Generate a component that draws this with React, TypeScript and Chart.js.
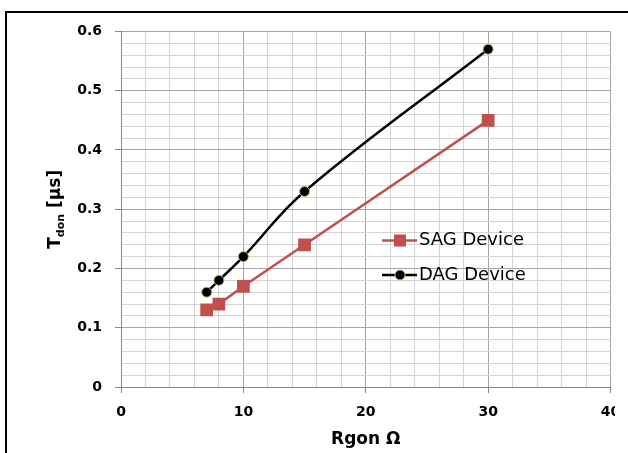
import React, { useEffect, useRef } from "react";
import { Chart, registerables } from "chart.js";

Chart.register(...registerables);

// Gate resistance (Ω) and turn-on delay (µs)
const rgonValues = [7, 8, 10, 15, 30];
const sagDelay = [0.13, 0.14, 0.17, 0.24, 0.45];
const dagDelay = [0.16, 0.18, 0.22, 0.33, 0.57];
const seriesLabels = ["SAG Device", "DAG Device"];

const X_MIN = 0;
const X_MAX = 40;
const X_STEP = 2;
const X_MAJOR = 10;
const Y_MIN = 0;
const Y_MAX = 0.6;
const Y_STEP = 0.02;
const Y_MAJOR = 0.1;

const FONT = "'DejaVu Sans', 'Liberation Sans', sans-serif";
const MAJOR_GRID = "#a6a6a6";
const MINOR_GRID = "#d4d4d4";
const SAG_COLOR = "#c0504d";
const DAG_COLOR = "#000000";
const DAG_EDGE = "#a9c46b";

const isMultiple = (v: number, step: number) =>
  Math.abs(v / step - Math.round(v / step)) < 1e-6;

const titlesAndLegend = {
  id: "titlesAndLegend",
  afterDraw(chart: any) {
    const { ctx, chartArea } = chart;
    ctx.save();
    ctx.fillStyle = "#000";

    // x axis title
    ctx.font = `bold 17px ${FONT}`;
    ctx.textAlign = "center";
    ctx.textBaseline = "middle";
    ctx.fillText("Rgon Ω", (chartArea.left + chartArea.right) / 2, 440);

    // y axis title with subscript, rotated
    ctx.save();
    ctx.translate(54, (chartArea.top + chartArea.bottom) / 2);
    ctx.rotate(-Math.PI / 2);
    ctx.textBaseline = "alphabetic";
    ctx.textAlign = "left";
    const big = `bold 17px ${FONT}`;
    const small = `bold 11px ${FONT}`;
    ctx.font = big;
    const wT = ctx.measureText("T").width;
    const wRest = ctx.measureText(" [µs]").width;
    ctx.font = small;
    const wSub = ctx.measureText("don").width;
    let x = -(wT + wSub + wRest) / 2;
    const base = 6;
    ctx.font = big;
    ctx.fillText("T", x, base);
    x += wT;
    ctx.font = small;
    ctx.fillText("don", x, base + 4);
    x += wSub;
    ctx.font = big;
    ctx.fillText(" [µs]", x, base);
    ctx.restore();

    // legend inside the plot area
    const rows = [240.5, 275];
    chart.data.datasets.forEach((ds: any, i: number) => {
      const y = rows[i];
      ctx.strokeStyle = ds.borderColor;
      ctx.lineWidth = 2.5;
      ctx.beginPath();
      ctx.moveTo(382, y);
      ctx.lineTo(417, y);
      ctx.stroke();
      ctx.fillStyle = ds.pointBackgroundColor;
      ctx.strokeStyle = ds.pointBorderColor;
      ctx.lineWidth = 1;
      if (ds.pointStyle === "rect") {
        ctx.fillRect(400 - 6, y - 6, 12, 12);
      } else {
        ctx.beginPath();
        ctx.arc(400, y, 5, 0, Math.PI * 2);
        ctx.fill();
        ctx.stroke();
      }
      ctx.fillStyle = "#000";
      ctx.font = `18px ${FONT}`;
      ctx.textAlign = "left";
      ctx.textBaseline = "middle";
      ctx.fillText(ds.label, 419, y);
    });
    ctx.restore();
  },
};

export default function App() {
  const canvasRef = useRef<HTMLCanvasElement | null>(null);

  useEffect(() => {
    const canvas = canvasRef.current;
    if (!canvas) return;
    const chart = new Chart(canvas, {
      type: "line",
      data: {
        datasets: [
          {
            label: seriesLabels[0],
            data: rgonValues.map((x, i) => ({ x, y: sagDelay[i] })),
            borderColor: SAG_COLOR,
            backgroundColor: SAG_COLOR,
            borderWidth: 2.5,
            pointStyle: "rect",
            pointRadius: 9,
            pointBackgroundColor: SAG_COLOR,
            pointBorderColor: SAG_COLOR,
            pointBorderWidth: 0,
            tension: 0,
          },
          {
            label: seriesLabels[1],
            data: rgonValues.map((x, i) => ({ x, y: dagDelay[i] })),
            borderColor: DAG_COLOR,
            backgroundColor: DAG_COLOR,
            borderWidth: 2.5,
            pointStyle: "circle",
            pointRadius: 5,
            pointBackgroundColor: DAG_COLOR,
            pointBorderColor: DAG_EDGE,
            pointBorderWidth: 1,
            tension: 0.4,
          },
        ],
      },
      options: {
        responsive: false,
        animation: false,
        devicePixelRatio: 1,
        layout: { autoPadding: false, padding: { left: 0, top: 31.5, right: 4.5, bottom: 0 } },
        plugins: {
          legend: { display: false },
          tooltip: { enabled: false },
        },
        scales: {
          x: {
            type: "linear",
            min: X_MIN,
            max: X_MAX,
            ticks: {
              stepSize: X_STEP,
              maxRotation: 0,
              autoSkip: false,
              padding: 11,
              color: "#000",
              font: { family: FONT, size: 14, weight: "bold" },
              callback: (v: any) => (isMultiple(Number(v), X_MAJOR) ? String(v) : ""),
            },
            grid: {
              color: (c: any) =>
                c.tick && isMultiple(c.tick.value, X_MAJOR) ? MAJOR_GRID : MINOR_GRID,
              tickColor: (c: any) =>
                c.tick && isMultiple(c.tick.value, X_MAJOR) ? "#888" : "rgba(0,0,0,0)",
              tickLength: 6,
              lineWidth: 1,
            },
            border: { color: "#888", width: 1 },
            afterFit: (s: any) => {
              s.height = 66;
              s.paddingLeft = 0;
              s.paddingRight = 0;
            },
          },
          y: {
            type: "linear",
            min: Y_MIN,
            max: Y_MAX,
            ticks: {
              stepSize: Y_STEP,
              autoSkip: false,
              padding: 13,
              color: "#000",
              font: { family: FONT, size: 14, weight: "bold" },
              callback: (v: any) =>
                isMultiple(Number(v), Y_MAJOR) ? String(Number(Number(v).toFixed(1))) : "",
            },
            grid: {
              color: (c: any) =>
                c.tick && isMultiple(c.tick.value, Y_MAJOR) ? MAJOR_GRID : MINOR_GRID,
              tickColor: (c: any) =>
                c.tick && isMultiple(c.tick.value, Y_MAJOR) ? "#888" : "rgba(0,0,0,0)",
              tickLength: 6,
              lineWidth: 1,
            },
            border: { color: "#888", width: 1 },
            afterFit: (s: any) => {
              s.width = 121;
              s.paddingTop = 0;
              s.paddingBottom = 0;
            },
          },
        },
      },
      plugins: [titlesAndLegend],
    });
    return () => chart.destroy();
  }, []);

  return (
    <div
      style={{
        position: "absolute",
        left: 0,
        top: 0,
        width: 628,
        height: 453,
        overflow: "hidden",
        background: "#fff",
      }}
    >
      <canvas
        ref={canvasRef}
        width={615}
        height={453}
        style={{ position: "absolute", left: 0, top: 0, width: 615, height: 453 }}
      />
      <div
        style={{
          position: "absolute",
          left: 5,
          top: 11,
          width: 700,
          height: 600,
          borderLeft: "2px solid #000",
          borderTop: "2px solid #000",
          boxSizing: "border-box",
          pointerEvents: "none",
        }}
      />
    </div>
  );
}
